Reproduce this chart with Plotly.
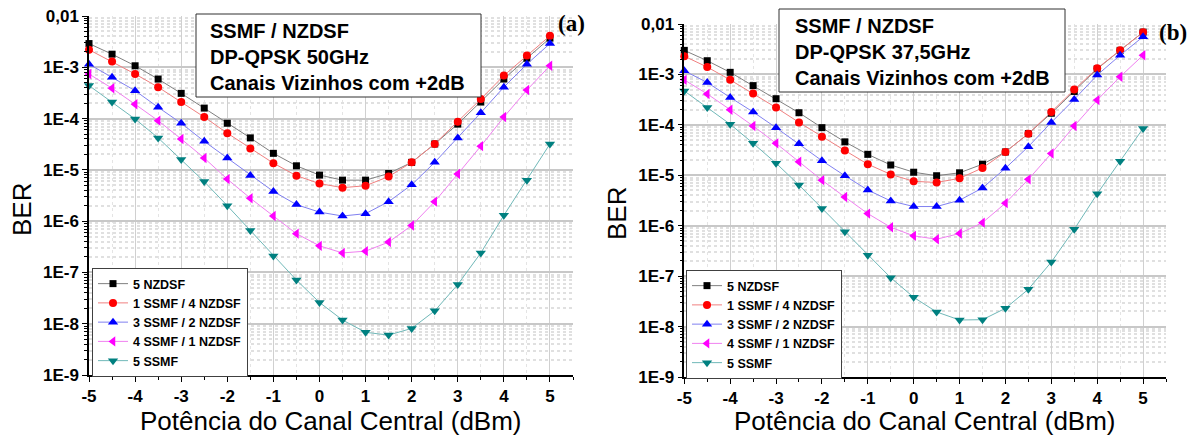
import plotly.graph_objects as go

W, H = 1198, 439

x_dbm = [-5, -4.5, -4, -3.5, -3, -2.5, -2, -1.5, -1, -0.5, 0, 0.5, 1, 1.5, 2, 2.5, 3, 3.5, 4, 4.5, 5]

series_names = ["5 NZDSF", "1 SSMF / 4 NZDSF", "3 SSMF / 2 NZDSF", "4 SSMF / 1 NZDSF", "5 SSMF"]

# Panel (a) DP-QPSK 50GHz
a_5nzdsf = [2.9e-3, 1.8e-3, 1.07e-3, 5.9e-4, 3.1e-4, 1.6e-4, 8.1e-5, 4.2e-5, 2.1e-5, 1.2e-5, 7.9e-6,
            6.3e-6, 6.3e-6, 8.5e-6, 1.4e-5, 3.2e-5, 7.8e-5, 2.1e-4, 5.9e-4, 1.5e-3, 3.7e-3]
a_1ssmf_4nzdsf = [2.2e-3, 1.3e-3, 7.4e-4, 4.1e-4, 2.1e-4, 1.07e-4, 5.2e-5, 2.6e-5, 1.35e-5, 7.7e-6, 5.4e-6,
                  4.5e-6, 4.9e-6, 7.4e-6, 1.4e-5, 3.2e-5, 8.7e-5, 2.4e-4, 6.9e-4, 1.7e-3, 4.1e-3]
a_3ssmf_2nzdsf = [1.15e-3, 6.4e-4, 3.5e-4, 1.66e-4, 8.1e-5, 3.6e-5, 1.7e-5, 7.8e-6, 3.8e-6, 2.1e-6, 1.5e-6,
                  1.26e-6, 1.4e-6, 2.4e-6, 5.1e-6, 1.4e-5, 4.2e-5, 1.3e-4, 4.1e-4, 1.15e-3, 2.9e-3]
a_4ssmf_1nzdsf = [7.4e-4, 3.9e-4, 1.9e-4, 9.1e-5, 4.0e-5, 1.7e-5, 6.6e-6, 2.8e-6, 1.26e-6, 5.7e-7, 3.3e-7,
                  2.4e-7, 2.6e-7, 3.9e-7, 8.2e-7, 2.4e-6, 8.3e-6, 2.9e-5, 1.07e-4, 3.6e-4, 1.07e-3]
a_5ssmf = [4.4e-4, 2.1e-4, 9.8e-5, 4.2e-5, 1.6e-5, 5.9e-6, 2.0e-6, 6.6e-7, 2.1e-7, 7.1e-8, 2.6e-8,
           1.18e-8, 6.8e-9, 6.0e-9, 8.1e-9, 1.78e-8, 5.8e-8, 2.4e-7, 1.3e-6, 6.3e-6, 3.2e-5]

# Panel (b) DP-QPSK 37,5GHz
b_5nzdsf = [3.0e-3, 1.87e-3, 1.1e-3, 6.0e-4, 3.3e-4, 1.74e-4, 8.8e-5, 4.6e-5, 2.6e-5, 1.6e-5, 1.15e-5,
            9.8e-6, 1.12e-5, 1.66e-5, 2.9e-5, 6.7e-5, 1.7e-4, 4.6e-4, 1.29e-3, 3.0e-3, 6.9e-3]
b_1ssmf_4nzdsf = [2.3e-3, 1.4e-3, 7.8e-4, 4.2e-4, 2.2e-4, 1.12e-4, 5.8e-5, 3.1e-5, 1.66e-5, 1.04e-5, 7.6e-6,
                  7.2e-6, 8.7e-6, 1.4e-5, 2.9e-5, 6.7e-5, 1.8e-4, 5.0e-4, 1.32e-3, 3.0e-3, 6.9e-3]
b_3ssmf_2nzdsf = [1.18e-3, 6.9e-4, 3.5e-4, 1.8e-4, 8.8e-5, 4.2e-5, 1.95e-5, 9.8e-6, 5.1e-6, 3.1e-6, 2.4e-6,
                  2.4e-6, 3.2e-6, 5.6e-6, 1.38e-5, 3.7e-5, 1.12e-4, 3.2e-4, 9.7e-4, 2.4e-3, 5.6e-3]
b_4ssmf_1nzdsf = [7.8e-4, 4.1e-4, 2.0e-4, 9.5e-5, 4.3e-5, 1.86e-5, 8.0e-6, 3.7e-6, 1.74e-6, 9.3e-7, 6.3e-7,
                  5.4e-7, 7.0e-7, 1.15e-6, 2.8e-6, 8.3e-6, 2.7e-5, 9.5e-5, 3.1e-4, 9.0e-4, 2.4e-3]
b_5ssmf = [4.7e-4, 2.2e-4, 1.03e-4, 4.3e-5, 1.74e-5, 6.4e-6, 2.2e-6, 7.6e-7, 2.6e-7, 9.3e-8, 3.8e-8,
           1.95e-8, 1.35e-8, 1.37e-8, 2.3e-8, 5.5e-8, 1.9e-7, 8.5e-7, 4.3e-6, 1.9e-5, 8.5e-5]

y_tickvals = [1e-9, 1e-8, 1e-7, 1e-6, 1e-5, 1e-4, 1e-3, 1e-2]
y_ticktext = ["1E-9", "1E-8", "1E-7", "1E-6", "1E-5", "1E-4", "1E-3", "0,01"]
x_tickvals = [-5, -4, -3, -2, -1, 0, 1, 2, 3, 4, 5]
x_ticktext = ["-5", "-4", "-3", "-2", "-1", "0", "1", "2", "3", "4", "5"]

box_a_text = "SSMF / NZDSF<br>DP-QPSK 50GHz<br>Canais Vizinhos com +2dB"
box_b_text = "SSMF / NZDSF<br>DP-QPSK 37,5GHz<br>Canais Vizinhos com +2dB"
x_title = "Potência do Canal Central (dBm)"
y_title = "BER"

marker_colors = ["#000000", "#ff0000", "#0000ff", "#ff00ff", "#008080"]
line_colors = ["#808080", "#f08080", "#8080f0", "#f080f0", "#70b8b8"]
symbols = ["square", "circle", "triangle-up", "triangle-left", "triangle-down"]
msizes = [7, 8, 9, 9, 9]


def px(x):
    return x / W


def py(y):
    return 1 - y / H


fig = go.Figure()

panels = [
    ([a_5nzdsf, a_1ssmf_4nzdsf, a_3ssmf_2nzdsf, a_4ssmf_1nzdsf, a_5ssmf], "x", "y", "legend"),
    ([b_5nzdsf, b_1ssmf_4nzdsf, b_3ssmf_2nzdsf, b_4ssmf_1nzdsf, b_5ssmf], "x2", "y2", "legend2"),
]
for series, xa, ya, lg in panels:
    for i, vals in enumerate(series):
        fig.add_trace(go.Scatter(
            x=x_dbm, y=vals, xaxis=xa, yaxis=ya, legend=lg,
            mode="lines+markers", name=series_names[i],
            line=dict(color=line_colors[i], width=1),
            marker=dict(symbol=symbols[i], size=msizes[i], color=marker_colors[i], line=dict(width=0)),
            cliponaxis=False,
        ))

tick_font = dict(family="Liberation Sans", size=17, color="black", weight="bold")
minor_y = [k * 10.0 ** e for e in range(-9, -2) for k in range(2, 10)]


def xaxis_cfg(dom, anchor):
    return dict(
        domain=dom, anchor=anchor, range=[-5, 5.5], tickvals=x_tickvals, ticktext=x_ticktext,
        showline=True, linecolor="black", linewidth=1.5, mirror=False, automargin=False,
        ticks="outside", ticklen=5, tickwidth=1.3, tickcolor="black",
        showgrid=True, gridcolor="#d0d0d0", gridwidth=1,
        tickfont=tick_font, zeroline=False,
        minor=dict(dtick=0.5, ticks="outside", ticklen=3, tickcolor="black",
                   showgrid=True, gridcolor="#e4e4e4", griddash="dot"),
    )


def yaxis_cfg(dom, anchor):
    return dict(
        domain=dom, anchor=anchor, type="log", range=[-9, -2],
        tickvals=y_tickvals, ticktext=y_ticktext, automargin=False,
        showline=True, linecolor="black", linewidth=1.5, mirror=False,
        ticks="outside", ticklen=5, tickwidth=1.3, tickcolor="black",
        showgrid=True, gridcolor="#c8c8c8", gridwidth=1.5,
        tickfont=tick_font, zeroline=False,
        minor=dict(tickvals=minor_y, ticks="outside", ticklen=3, tickcolor="black",
                   showgrid=True, gridcolor="#e0e0e0", griddash="dot"),
    )


legend_font = dict(family="Liberation Sans", size=12.5, color="black", weight="bold")

fig.update_layout(
    width=W, height=H, margin=dict(l=0, r=0, t=0, b=0, autoexpand=False),
    paper_bgcolor="white", plot_bgcolor="white",
    xaxis=xaxis_cfg([px(89), px(573)], "y"),
    yaxis=yaxis_cfg([py(375), py(16)], "x"),
    xaxis2=xaxis_cfg([px(684.3), px(1166)], "y2"),
    yaxis2=yaxis_cfg([py(377), py(24)], "x2"),
    legend=dict(x=px(92), y=py(268), xanchor="left", yanchor="top",
                bgcolor="white", bordercolor="#404040", borderwidth=1,
                font=legend_font, tracegroupgap=0, itemwidth=30),
    legend2=dict(x=px(686), y=py(270), xanchor="left", yanchor="top",
                 bgcolor="white", bordercolor="#404040", borderwidth=1,
                 font=legend_font, tracegroupgap=0, itemwidth=30),
    showlegend=True,
)

# Info boxes
fig.add_shape(type="rect", xref="paper", yref="paper",
              x0=px(196), x1=px(481), y0=py(97), y1=py(14),
              line=dict(color="#303030", width=1), fillcolor="white", layer="above")
fig.add_shape(type="rect", xref="paper", yref="paper",
              x0=px(779), x1=px(1065), y0=py(92), y1=py(9),
              line=dict(color="#303030", width=1), fillcolor="white", layer="above")

box_font = dict(family="Liberation Sans", size=20, color="black", weight="bold")
fig.add_annotation(text=box_a_text, xref="paper", yref="paper", x=px(208), y=py(18),
                   xanchor="left", yanchor="top", align="left", showarrow=False, font=box_font)
fig.add_annotation(text=box_b_text, xref="paper", yref="paper", x=px(793), y=py(13),
                   xanchor="left", yanchor="top", align="left", showarrow=False, font=box_font)

label_font = dict(family="Liberation Serif", size=23, color="black", weight="bold")
fig.add_annotation(text="(a)", xref="paper", yref="paper", x=px(587), y=py(23),
                   xanchor="right", yanchor="middle", showarrow=False, font=label_font)
fig.add_annotation(text="(b)", xref="paper", yref="paper", x=px(1189), y=py(32),
                   xanchor="right", yanchor="middle", showarrow=False, font=label_font)

title_font = dict(family="Liberation Sans", size=26, color="black")
fig.add_annotation(text=x_title, xref="paper", yref="paper", x=px(331), y=py(421),
                   xanchor="center", yanchor="middle", showarrow=False, font=title_font)
fig.add_annotation(text=x_title, xref="paper", yref="paper", x=px(925), y=py(421),
                   xanchor="center", yanchor="middle", showarrow=False, font=title_font)
fig.add_annotation(text=y_title, xref="paper", yref="paper", x=px(22), y=py(210), textangle=-90,
                   xanchor="center", yanchor="middle", showarrow=False, font=title_font)
fig.add_annotation(text=y_title, xref="paper", yref="paper", x=px(617), y=py(214), textangle=-90,
                   xanchor="center", yanchor="middle", showarrow=False, font=title_font)

fig.write_html("out.html", config={"displayModeBar": False},
               post_script="document.body.style.margin='0';document.body.style.overflow='hidden';")
